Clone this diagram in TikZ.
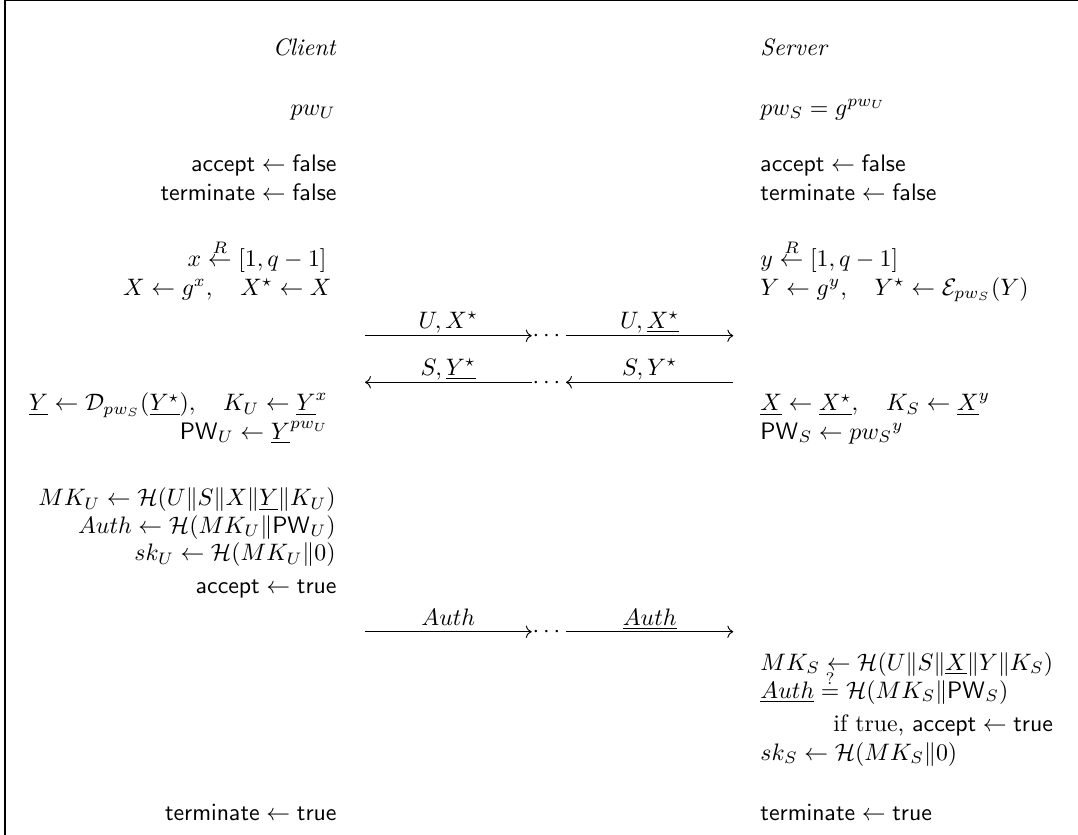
\documentclass[tikz,border=0pt]{standalone}
\usepackage{amsmath}
\usepackage{amssymb}
\usepackage{tikz}
\usetikzlibrary{arrows.meta}

\begin{document}
\begin{tikzpicture}[x=0.42pt, y=-0.42pt,
	cl/.style={anchor=base east, inner sep=0pt},
	sv/.style={anchor=base west, inner sep=0pt},
	lbl/.style={anchor=base, inner sep=0pt},
	msg/.style={line width=0.4pt, ->}]
	
	\useasboundingbox (0,0) rectangle (1078,835);
	\draw[line width=0.6pt] (5,835) -- (5,0.7) -- (1078,0.7);
	
	% client
	\node[cl] (client) at (337,55) {\textit{Client}};
	\node[cl] (pwU) at (336,115) {$pw_U$};
	\node[cl] (cacc) at (337,171.7) {$\mathsf{accept} \leftarrow \mathsf{false}$};
	\node[cl] (cterm) at (337,200) {$\mathsf{terminate} \leftarrow \mathsf{false}$};
	\node[cl] (xpick) at (327,266.7) {$x \stackrel{R}{\leftarrow} [1,q-1]$};
	\node[cl] (Xenc) at (332,295) {$X \leftarrow g^x, \quad X^\star \leftarrow X$};
	\node[cl] (Ydec) at (328,410.7) {$\underline{Y} \leftarrow \mathcal{D}_{pw_S}(\underline{Y^\star}), \quad K_U \leftarrow \underline{Y}^x$};
	\node[cl] (PWU) at (329,439) {$\mathsf{PW}_U \leftarrow \underline{Y}^{pw_U}$};
	\node[cl] (MKU) at (336,505.7) {$MK_U \leftarrow \mathcal{H}(U\|S\|X\|\underline{Y}\|K_U)$};
	\node[cl] (authU) at (336,533.3) {$Auth \leftarrow \mathcal{H}(MK_U\|\mathsf{PW}_U)$};
	\node[cl] (skU) at (336,560.7) {$sk_U \leftarrow \mathcal{H}(MK_U\|0)$};
	\node[cl] (caccT) at (337,593.3) {$\mathsf{accept} \leftarrow \mathsf{true}$};
	\node[cl] (ctermT) at (337,820.5) {$\mathsf{terminate} \leftarrow \mathsf{true}$};
	
	% server
	\node[sv] (server) at (760,55) {\textit{Server}};
	\node[sv] (pwS) at (760,115) {$pw_S = g^{pw_U}$};
	\node[sv] (sacc) at (760,171.7) {$\mathsf{accept} \leftarrow \mathsf{false}$};
	\node[sv] (sterm) at (760,200) {$\mathsf{terminate} \leftarrow \mathsf{false}$};
	\node[sv] (ypick) at (760,266.7) {$y \stackrel{R}{\leftarrow} [1,q-1]$};
	\node[sv] (Yenc) at (760,295) {$Y \leftarrow g^y, \quad Y^\star \leftarrow \mathcal{E}_{pw_S}(Y)$};
	\node[sv] (Xdec) at (760,410.7) {$\underline{X} \leftarrow \underline{X^\star}, \quad K_S \leftarrow \underline{X}^y$};
	\node[sv] (PWS) at (760,439) {$\mathsf{PW}_S \leftarrow {pw_S}^y$};
	\node[sv] (MKS) at (760,670) {$MK_S \leftarrow \mathcal{H}(U\|S\|\underline{X}\|Y\|K_S)$};
	\node[sv] (authS) at (760,698.3) {$\underline{Auth} \stackrel{?}{=} \mathcal{H}(MK_S\|\mathsf{PW}_S)$};
	\node[sv] (saccT) at (833,731.7) {if true, $\mathsf{accept} \leftarrow \mathsf{true}$};
	\node[sv] (skS) at (760,760) {$sk_S \leftarrow \mathcal{H}(MK_S\|0)$};
	\node[sv] (stermT) at (760,820.5) {$\mathsf{terminate} \leftarrow \mathsf{true}$};
	
	% messages
	\coordinate (m1a) at (365,335.7);
	\coordinate (m1b) at (531.7,335.7);
	\coordinate (m1c) at (566,335.7);
	\coordinate (m1d) at (733.3,335.7);
	\node[lbl] (dots1) at (548.5,341.7) {$\cdots$};
	\node[lbl] (m1l) at (448.3,328.3) {$U, X^\star$};
	\node[lbl] (m1r) at (649.7,328.3) {$U, \underline{X^\star}$};
	\draw[msg] (m1a) -- (m1b);
	\draw[msg] (m1c) -- (m1d);
	
	\coordinate (m2a) at (365,382.3);
	\coordinate (m2b) at (531.7,382.3);
	\coordinate (m2c) at (566,382.3);
	\coordinate (m2d) at (733.3,382.3);
	\node[lbl] (dots2) at (548.5,388.3) {$\cdots$};
	\node[lbl] (m2l) at (448.3,375) {$S, \underline{Y^\star}$};
	\node[lbl] (m2r) at (649.7,375) {$S, Y^\star$};
	\draw[msg] (m2b) -- (m2a);
	\draw[msg] (m2d) -- (m2c);
	
	\coordinate (m3a) at (365,631.7);
	\coordinate (m3b) at (531.7,631.7);
	\coordinate (m3c) at (566,631.7);
	\coordinate (m3d) at (733.3,631.7);
	\node[lbl] (dots3) at (548.5,637.7) {$\cdots$};
	\node[lbl] (m3l) at (448.3,625) {$Auth$};
	\node[lbl] (m3r) at (649.7,625) {$\underline{Auth}$};
	\draw[msg] (m3a) -- (m3b);
	\draw[msg] (m3c) -- (m3d);
	
\end{tikzpicture}
\end{document}
